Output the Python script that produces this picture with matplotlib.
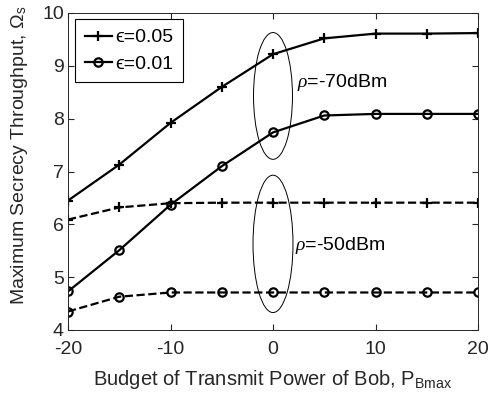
import numpy as np
import matplotlib.pyplot as plt
from matplotlib.patches import Ellipse

plt.rcParams['font.family'] = ['Liberation Sans', 'DejaVu Sans']
plt.rcParams['mathtext.fontset'] = 'custom'
plt.rcParams['mathtext.rm'] = 'Liberation Sans'
plt.rcParams['mathtext.it'] = 'Liberation Serif:italic'
plt.rcParams['axes.unicode_minus'] = False

# Transmit power budget of Bob (dBm)
p_bmax = [-20, -15, -10, -5, 0, 5, 10, 15, 20]

# rho = -70 dBm
eps005_rho70 = [6.45, 7.13, 7.92, 8.60, 9.22, 9.52, 9.61, 9.61, 9.62]
eps001_rho70 = [4.73, 5.51, 6.37, 7.10, 7.74, 8.06, 8.09, 8.09, 8.09]
# rho = -50 dBm
eps005_rho50 = [6.09, 6.32, 6.40, 6.41, 6.41, 6.41, 6.41, 6.41, 6.41]
eps001_rho50 = [4.35, 4.63, 4.71, 4.71, 4.71, 4.71, 4.71, 4.71, 4.71]

fs = 14

fig = plt.figure(figsize=(4.89, 3.93), dpi=100)
ax = fig.add_axes([68 / 489, 1 - 330 / 393, 410 / 489, 317 / 393])

lw = 1.6
ax.plot(p_bmax, eps005_rho70, 'k-', marker='+', ms=7, mew=1.6, lw=lw, label='\u03f5=0.05')
ax.plot(p_bmax, eps001_rho70, 'k-', marker='o', ms=6, mew=1.6, mfc='none', lw=lw, label='\u03f5=0.01')
ax.plot(p_bmax, eps005_rho50, 'k--', marker='+', ms=7, mew=1.6, lw=lw)
ax.plot(p_bmax, eps001_rho50, 'k--', marker='o', ms=6, mew=1.6, mfc='none', lw=lw)

ax.add_patch(Ellipse((0, 8.43), 3.8, 2.4, fill=False, lw=0.7, ec='k'))
ax.add_patch(Ellipse((0, 5.63), 3.9, 2.6, fill=False, lw=0.7, ec='k'))
ax.text(2.3, 8.69, r'$\rho$=-70dBm', fontsize=fs, va='center')
ax.text(2.1, 5.6, r'$\rho$=-50dBm', fontsize=fs, va='center')

ax.set_xlim(-20, 20)
ax.set_ylim(4, 10)
ax.set_xticks([-20, -10, 0, 10, 20])
ax.set_yticks([4, 5, 6, 7, 8, 9, 10])
ax.tick_params(direction='in', top=True, right=True, labelsize=fs, colors='0.15', length=4)
ax.tick_params(axis='x', pad=8)
ax.tick_params(axis='y', pad=3)
for s in ax.spines.values():
    s.set_color('0.15')
    s.set_linewidth(0.7)

ax.set_xlabel(r'Budget of Transmit Power of Bob, P$_{\mathrm{Bmax}}$', fontsize=14.5, color='0.15')
ax.set_ylabel(r'Maximum Secrecy Throughput, $\Omega_{\mathrm{s}}$', fontsize=fs, color='0.15')
ax.xaxis.set_label_coords(0.5, -0.12)
ax.yaxis.set_label_coords(-0.093, 0.55)

leg = ax.legend(loc='upper left', bbox_to_anchor=(7 / 410, 1 - 6 / 317), borderaxespad=0,
                fontsize=fs, frameon=True, fancybox=False, framealpha=1,
                edgecolor='k', handlelength=1.4, borderpad=0.5, handletextpad=0.15,
                labelspacing=0.45)
leg.get_frame().set_linewidth(0.8)

fig.savefig('out.png', dpi=100)
